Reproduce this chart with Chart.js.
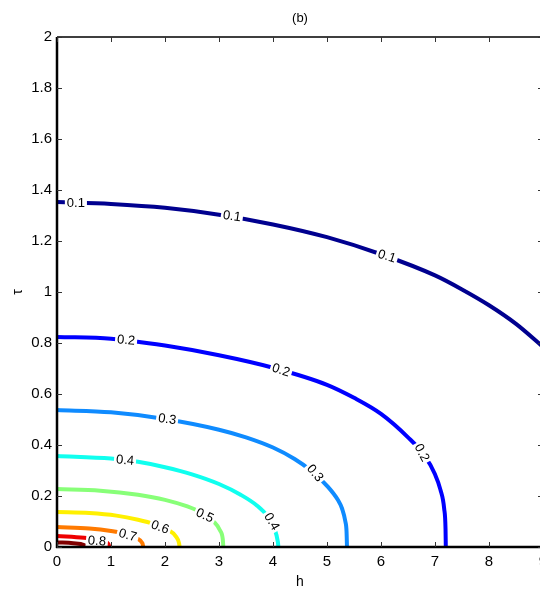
<!DOCTYPE html>
<html><head><meta charset="utf-8">
<script src="https://cdn.jsdelivr.net/npm/chart.js@4/dist/chart.umd.min.js"></script>
<style>html,body{margin:0;padding:0;overflow:hidden;background:#fff;width:540px;height:593px}
#wrap{width:560px;height:593px}</style></head>
<body><div id="wrap"><canvas id="c" width="560" height="593"></canvas></div>
<script>
// Contour levels and colours
const levels = ['0.1','0.2','0.3','0.4','0.5','0.6','0.7','0.8','0.9'];
const colors = ['#00008F','#0000FF','#0F8BFF','#10FFEF','#88FF78','#FFF000','#FF7A00','#EE0000','#800000'];

// Contour lines: h (x) and tau (y) points
const h01 = [0,1,2,3,4,5,6,7,7.5,8,8.5,9];
const t01 = [1.353,1.345,1.330,1.303,1.265,1.215,1.148,1.065,1.01,0.948,0.875,0.785];
const h02 = [0,1,2,3,4,5,5.5,6,6.5,6.8,7.0,7.1,7.17,7.195,7.2];
const t02 = [0.824,0.817,0.790,0.752,0.703,0.636,0.585,0.522,0.43,0.36,0.285,0.225,0.15,0.07,0];
const h03 = [0,1,2,3,3.5,4,4.4,4.7,5.0,5.2,5.28,5.34,5.362,5.37];
const t03 = [0.537,0.528,0.502,0.46,0.43,0.39,0.345,0.30,0.24,0.185,0.15,0.1,0.06,0];
const h04 = [0,1,1.5,2,2.5,3,3.4,3.7,3.9,4.03,4.09,4.1];
const t04 = [0.357,0.347,0.334,0.313,0.285,0.247,0.205,0.163,0.12,0.07,0.02,0];
const h05 = [0,0.8,1.5,2,2.4,2.7,2.9,3.02,3.07,3.08];
const t05 = [0.227,0.221,0.205,0.185,0.16,0.132,0.1,0.065,0.03,0];
const h06 = [0,0.6,1.1,1.5,1.8,2.05,2.2,2.26,2.27];
const t06 = [0.137,0.133,0.123,0.107,0.09,0.068,0.042,0.015,0];
const h07 = [0,0.6,1.0,1.3,1.48,1.58,1.6];
const t07 = [0.078,0.073,0.063,0.05,0.034,0.015,0];
const h08 = [0,0.5,0.8,0.95,0.97];
const t08 = [0.043,0.036,0.027,0.012,0];
const h09 = [0,0.3,0.5,0.55];
const t09 = [0.018,0.015,0.008,0];

const hLines = [h01,h02,h03,h04,h05,h06,h07,h08,h09];
const tLines = [t01,t02,t03,t04,t05,t06,t07,t08,t09];

// Inline contour labels
const labelText  = ['0.1','0.1','0.1','0.2','0.2','0.2','0.3','0.3','0.4','0.4','0.5','0.6','0.7','0.8'];
const labelH     = [0.35,3.24,6.11,1.28,4.15,6.76,2.04,4.78,1.26,3.98,2.74,1.91,1.31,0.74];
const labelTau   = [1.349,1.298,1.141,0.812,0.694,0.37,0.502,0.29,0.341,0.1,0.124,0.078,0.047,0.024];
const labelAngle = [0,8,18,5,18,62,8,50,5,60,25,20,15,5];

// Axis ticks
const xTicks = {min:0, max:9, step:1};
const yTicks = {min:0, max:2, step:0.2};

const FONT = "'Liberation Sans', Arial, sans-serif";

const datasets = levels.map((lv,i)=>({
  label: lv,
  data: hLines[i].map((x,k)=>({x:x, y:tLines[i][k]})),
  showLine: true,
  borderColor: colors[i],
  backgroundColor: colors[i],
  borderWidth: 4,
  pointRadius: 0,
  cubicInterpolationMode: 'monotone',
  fill: false
}));

const decor = {
  id: 'decor',
  afterDraw(chart){
    const ctx = chart.ctx, a = chart.chartArea;
    const xs = chart.scales.x, ys = chart.scales.y;
    // labels
    ctx.save();
    ctx.beginPath(); ctx.rect(a.left, a.top, a.right-a.left, a.bottom-a.top); ctx.clip();
    ctx.font = '13px ' + FONT;
    ctx.textAlign = 'center'; ctx.textBaseline = 'middle';
    for (let i=0;i<labelText.length;i++){
      const px = xs.getPixelForValue(labelH[i]), py = ys.getPixelForValue(labelTau[i]);
      ctx.save();
      ctx.translate(px, py);
      ctx.rotate(labelAngle[i]*Math.PI/180);
      const w = ctx.measureText(labelText[i]).width;
      ctx.fillStyle = '#fff';
      ctx.fillRect(-w/2-2, -6, w+4, 12);
      ctx.fillStyle = '#000';
      ctx.fillText(labelText[i], 0, 0.5);
      ctx.restore();
    }
    ctx.restore();
    // box
    ctx.save();
    ctx.strokeStyle = '#000';
    ctx.lineWidth = 1.5;
    ctx.beginPath();
    ctx.moveTo(a.left, a.top); ctx.lineTo(a.right, a.top);
    ctx.moveTo(a.right, a.top); ctx.lineTo(a.right, a.bottom);
    ctx.stroke();
    ctx.lineWidth = 2.5;
    ctx.beginPath();
    ctx.moveTo(a.left, a.top); ctx.lineTo(a.left, a.bottom+1);
    ctx.moveTo(a.left-1, a.bottom); ctx.lineTo(a.right, a.bottom);
    ctx.stroke();
    // inward ticks
    ctx.lineWidth = 1;
    ctx.strokeStyle = '#333';
    ctx.beginPath();
    xs.ticks.forEach(t=>{
      const p = Math.round(xs.getPixelForValue(t.value))+0.5;
      ctx.moveTo(p, a.bottom); ctx.lineTo(p, a.bottom-5);
      ctx.moveTo(p, a.top); ctx.lineTo(p, a.top+5);
    });
    ys.ticks.forEach(t=>{
      const p = Math.round(ys.getPixelForValue(t.value))+0.5;
      ctx.moveTo(a.left, p); ctx.lineTo(a.left+5, p);
      ctx.moveTo(a.right, p); ctx.lineTo(a.right-5, p);
    });
    ctx.stroke();
    // title
    ctx.fillStyle = '#000';
    ctx.font = '13px ' + FONT;
    ctx.textAlign = 'center'; ctx.textBaseline = 'middle';
    ctx.fillText('(b)', (a.left+a.right)/2, 18);
    ctx.restore();
  }
};

new Chart(document.getElementById('c'), {
  type: 'scatter',
  data: { datasets },
  options: {
    responsive: false,
    animation: false,
    devicePixelRatio: 1,
    layout: { padding: {left:0, right:17, top:37, bottom:0} },
    plugins: { legend: {display:false}, tooltip: {enabled:false}, title: {display:false} },
    scales: {
      x: {
        type: 'linear', min: xTicks.min, max: xTicks.max,
        ticks: { stepSize: xTicks.step, color:'#000', font:{family:FONT, size:15}, padding: 6, maxRotation:0,
                 callback: v => String(Number(v.toFixed(1))) },
        grid: { display:false, drawTicks:false },
        border: { display:false },
        title: { display:true, text:'h', color:'#000', font:{family:FONT, size:14}, padding:{top:0, bottom:2} },
        afterFit(s){ s.height = 46; }
      },
      y: {
        type: 'linear', min: yTicks.min, max: yTicks.max,
        ticks: { stepSize: yTicks.step, color:'#000', font:{family:FONT, size:15}, padding: 5,
                 callback: v => String(Number(v.toFixed(1))) },
        grid: { display:false, drawTicks:false },
        border: { display:false },
        title: { display:true, text:'τ', color:'#000', font:{family:FONT, size:14}, padding:{top:10, bottom:0} },
        afterFit(s){ s.width = 57; }
      }
    }
  },
  plugins: [decor]
});
</script>
</body></html>
